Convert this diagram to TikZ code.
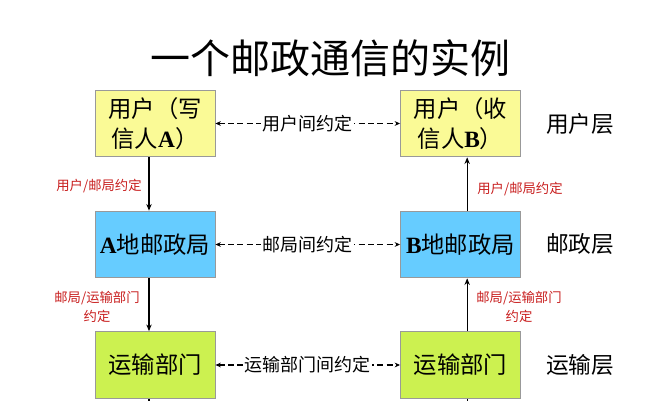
\documentclass[tikz,border=0pt]{standalone}
\usepackage{fontspec}
\setmainfont{Liberation Serif}
\newfontfamily\cjk{Noto Sans CJK SC}
\usetikzlibrary{arrows.meta}
\definecolor{useryellow}{RGB}{250,250,150}
\definecolor{postblue}{RGB}{102,204,255}
\definecolor{transgreen}{RGB}{204,241,80}
\definecolor{notered}{RGB}{200,30,30}

\begin{document}
\begin{tikzpicture}[x=0.75pt,y=-0.75pt]
	\tikzset{every node/.style={inner sep=0pt}}
	\tikzset{layerbox/.style={draw=gray!80,line width=0.7pt,minimum width=90pt,minimum height=50pt,align=center,font=\cjk\fontsize{17.5}{23}\selectfont}}
	\tikzset{peerline/.style={dash pattern=on 4.5pt off 2.5pt,line width=0.8pt,{Stealth[length=4pt,width=3.5pt]}-{Stealth[length=4pt,width=3.5pt]}}}
	\tikzset{peerlabel/.style={fill=white,inner xsep=1pt,font=\cjk\fontsize{13.5}{15}\selectfont}}
	\tikzset{flowline/.style={line width=0.9pt,-{Stealth[length=5pt,width=4pt]}}}
	\tikzset{notelabel/.style={text=notered,align=center,font=\cjk\fontsize{10}{14}\selectfont}}
	\tikzset{layername/.style={font=\cjk\fontsize{17}{20}\selectfont}}
	\useasboundingbox (0,0) rectangle (667,400);
	\node (title) at (330,58) {\cjk\fontsize{30}{34}\selectfont 一个邮政通信的实例};
	% boxes
	\node[layerbox,fill=useryellow] (userA) at (155,123.5) {用户（写\\信人\textbf{\rmfamily A}）};
	\node[layerbox,fill=useryellow] (userB) at (460.5,123.5) {用户（收\\信人\textbf{\rmfamily B}）};
	\node[layerbox,fill=postblue] (postA) at (155,244.5) {\textbf{\rmfamily A}地邮政局};
	\node[layerbox,fill=postblue] (postB) at (460.5,244.5) {\textbf{\rmfamily B}地邮政局};
	\node[layerbox,fill=transgreen] (transA) at (155,365) {运输部门};
	\node[layerbox,fill=transgreen] (transB) at (460.5,365) {运输部门};
	% layers
	\node[layername] (userL) at (580,124) {用户层};
	\node[layername] (postL) at (580,244) {邮政层};
	\node[layername] (transL) at (580,365) {运输层};
	% peer protocols
	\draw[peerline] (userA.east) -- node[peerlabel] {用户间约定} (userB.west);
	\draw[peerline] (postA.east) -- node[peerlabel] {邮局间约定} (postB.west);
	\draw[peerline] (transA.east) -- node[peerlabel] {运输部门间约定} (transB.west);
	% vertical flow
	\draw[flowline] ([xshift=-4.5pt]userA.south) -- ([xshift=-4.5pt]postA.north);
	\draw[flowline] ([xshift=-4.5pt]postA.south) -- ([xshift=-4.5pt]transA.north);
	\draw[flowline] ([xshift=5pt]postB.north) -- ([xshift=5pt]userB.south);
	\draw[flowline] ([xshift=5pt]transB.north) -- ([xshift=5pt]postB.south);
	\coordinate (outA) at ([xshift=-4.5pt,yshift=-10pt]transA.south);
	\coordinate (outB) at ([xshift=5pt,yshift=-10pt]transB.south);
	\draw[line width=0.9pt] ([xshift=-4.5pt]transA.south) -- (outA);
	\draw[line width=0.9pt] ([xshift=5pt]transB.south) -- (outB);
	% notes
	\node[notelabel] (noteA1) at (99,186) {用户/邮局约定};
	\node[notelabel] (noteB1) at (520,189) {用户/邮局约定};
	\node[notelabel] (noteA2) at (97,307) {邮局/运输部门\\约定};
	\node[notelabel] (noteB2) at (519,307) {邮局/运输部门\\约定};
\end{tikzpicture}
\end{document}
